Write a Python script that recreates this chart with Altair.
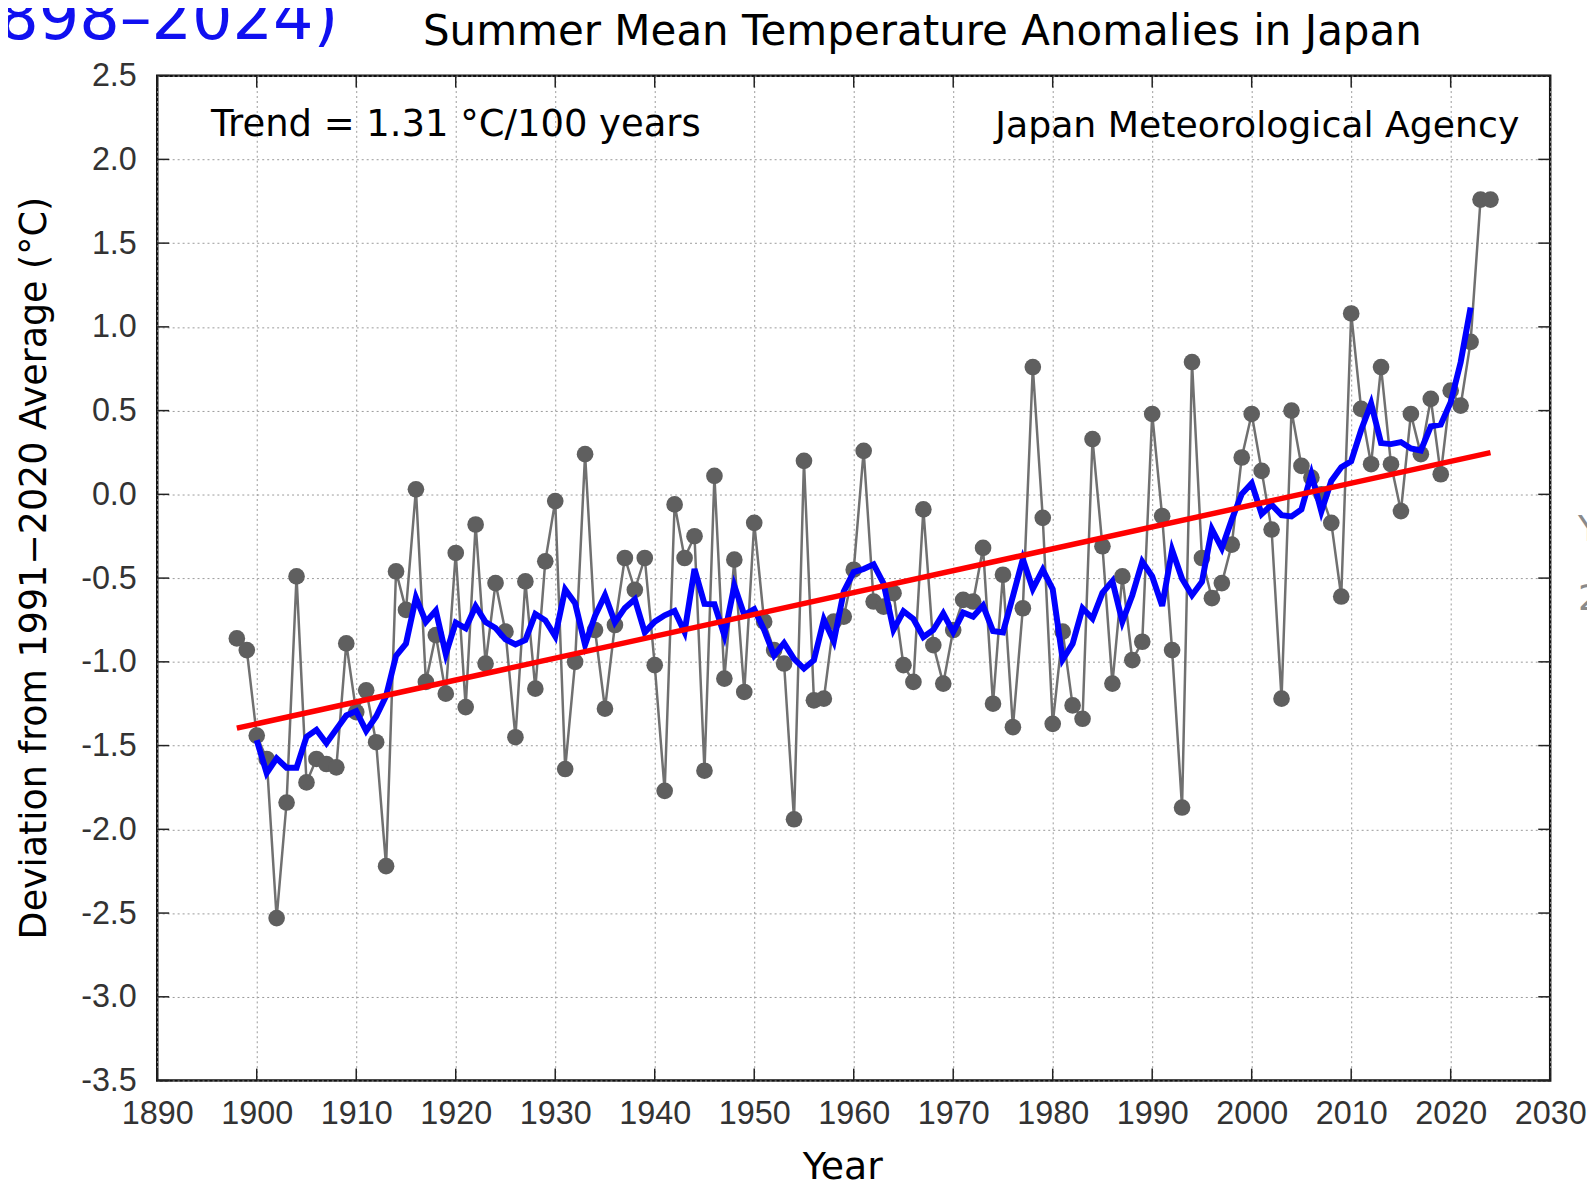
import altair as alt
import pandas as pd

# ---------------- data ----------------
years = list(range(1898, 2025))
anomalies = [
    -0.86, -0.93, -1.44, -1.58, -2.53, -1.84, -0.49, -1.72, -1.58, -1.61,   # 1898-1907
    -1.63, -0.89, -1.30, -1.17, -1.48, -2.22, -0.46, -0.69, 0.03, -1.12,    # 1908-1917
    -0.84, -1.19, -0.35, -1.27, -0.18, -1.01, -0.53, -0.82, -1.45, -0.52,   # 1918-1927
    -1.16, -0.40, -0.04, -1.64, -1.00, 0.24, -0.81, -1.28, -0.78, -0.38,    # 1928-1937
    -0.57, -0.38, -1.02, -1.77, -0.06, -0.38, -0.25, -1.65, 0.11, -1.10,    # 1938-1947
    -0.39, -1.18, -0.17, -0.76, -0.93, -1.01, -1.94, 0.20, -1.23, -1.22,    # 1948-1957
    -0.76, -0.73, -0.45, 0.26, -0.64, -0.67, -0.59, -1.02, -1.12, -0.09,    # 1958-1967
    -0.90, -1.13, -0.81, -0.63, -0.64, -0.32, -1.25, -0.48, -1.39, -0.68,   # 1968-1977
    0.76, -0.14, -1.37, -0.82, -1.26, -1.34, 0.33, -0.31, -1.13, -0.49,     # 1978-1987
    -0.99, -0.88, 0.48, -0.13, -0.93, -1.87, 0.79, -0.38, -0.62, -0.53,     # 1988-1997
    -0.30, 0.22, 0.48, 0.14, -0.21, -1.22, 0.50, 0.17, 0.10, 0.00,          # 1998-2007
    -0.17, -0.61, 1.08, 0.51, 0.18, 0.76, 0.18, -0.10, 0.48, 0.24,          # 2008-2017
    0.57, 0.12, 0.62, 0.53, 0.91, 1.76, 1.76,                               # 2018-2024
]

x_ticks = list(range(1890, 2031, 10))
y_ticks = [-3.5, -3.0, -2.5, -2.0, -1.5, -1.0, -0.5, 0.0, 0.5, 1.0, 1.5, 2.0, 2.5]

title_text = ["Summer Mean Temperature Anomalies in Japan"]
trend_text = ["Trend = 1.31 °C/100 years"]
agency_text = ["Japan Meteorological Agency"]
y_title_text = ["Deviation from 1991\u22122020 Average (°C)"]
x_title_text = ["Year"]
corner_text = ["(1898\u20132024)"]
edge_text_1 = ["Y"]
edge_text_2 = ["2"]

# ---------------- layout ----------------
W, H = 1400, 1010
df = pd.DataFrame({"year": years, "v": anomalies})

x_scale = alt.Scale(domain=[1890, 2030], nice=False, zero=False)
y_scale = alt.Scale(domain=[-3.5, 2.5], nice=False, zero=False)

x_axis = alt.Axis(
    values=x_ticks, format="d", title=None, grid=True, gridDash=[2, 3],
    gridColor="#9a9a9a", gridWidth=1, tickSize=0, domain=False,
    labelFont="Liberation Sans", labelFontSize=32.5, labelColor="#333333",
    labelPadding=17, labelFlush=False, labelOverlap=False,
)
y_axis = alt.Axis(
    values=y_ticks, format=".1f", title=None, grid=True, gridDash=[2, 3],
    gridColor="#9a9a9a", gridWidth=1, tickSize=0, domain=False,
    labelFont="Liberation Sans", labelFontSize=32.5, labelColor="#333333",
    labelPadding=21, labelFlush=False, labelOverlap=False,
    labelExpr="replace(datum.label, '\u2212', '-')",
)


def X(field="year"):
    return alt.X(f"{field}:Q", scale=x_scale, axis=x_axis)


def Y(field="v"):
    return alt.Y(f"{field}:Q", scale=y_scale, axis=y_axis)


base = alt.Chart(df)

gray_line = base.mark_line(color="#707070", strokeWidth=2.5).encode(x=X(), y=Y())
gray_pts = base.mark_circle(color="#5f5f5f", size=280, opacity=1).encode(x=X(), y=Y())

blue = (
    base.transform_window(
        ma="mean(v)", n="count()", frame=[-2, 2], sort=[alt.SortField("year")]
    )
    .transform_filter("datum.n == 5")
    .mark_line(color="#0000ff", strokeWidth=6)
    .encode(x=X(), y=Y("ma"))
)

red = (
    base.transform_regression("year", "v")
    .mark_line(color="#ff0000", strokeWidth=5.5)
    .encode(x=X(), y=Y())
)

# inward ticks on all four sides
xt = alt.Chart(pd.DataFrame({"year": x_ticks}))
yt = alt.Chart(pd.DataFrame({"v": y_ticks}))
tick_style = dict(color="#222222", strokeWidth=1.5)
tick_len = 12
x_tick_bottom = xt.mark_rule(**tick_style).encode(
    x=X(), y=alt.value(H), y2=alt.value(H - tick_len))
x_tick_top = xt.mark_rule(**tick_style).encode(
    x=X(), y=alt.value(0), y2=alt.value(tick_len))
y_tick_left = yt.mark_rule(**tick_style).encode(
    y=Y(), x=alt.value(0), x2=alt.value(tick_len))
y_tick_right = yt.mark_rule(**tick_style).encode(
    y=Y(), x=alt.value(W), x2=alt.value(W - tick_len))


def label(txt, x, y, size, align="left", angle=0, color="black", font="DejaVu Sans"):
    kw = dict(align=align, baseline="alphabetic", fontSize=size, font=font, color=color)
    if angle:
        kw["angle"] = angle
    return alt.Chart(pd.DataFrame({"t": txt})).mark_text(**kw).encode(
        text="t:N", x=alt.value(x), y=alt.value(y))


title = label(title_text, 769, -30.5, 42.2, align="center")
trend = label(trend_text, 54, 60.5, 37.1)
agency = label(agency_text, 1369, 62, 36.4, align="right")
ytitle = label(y_title_text, -112, 495, 36.6, align="center", angle=270)
xtitle = label(x_title_text, 689, 1109, 38, align="center")
corner = label(corner_text, 182, -37, 64, align="right", color="#1010f0")
edge1 = label(edge_text_1, 1428, 468, 36, color="#8a8a8a")
edge2 = label(edge_text_2, 1428, 537, 36, color="#8a8a8a")

chart = alt.layer(
    gray_line, gray_pts, blue, red,
    x_tick_bottom, x_tick_top, y_tick_left, y_tick_right,
    title, trend, agency, ytitle, xtitle, corner, edge1, edge2,
).properties(
    width=W, height=H,
    padding={"left": 150, "top": 65, "right": 37, "bottom": 103},
    autosize=alt.AutoSizeParams(type="none"),
).configure_view(stroke="#111111", strokeWidth=2.5)

chart.save("out.html", embed_options={"renderer": "svg", "actions": False})
